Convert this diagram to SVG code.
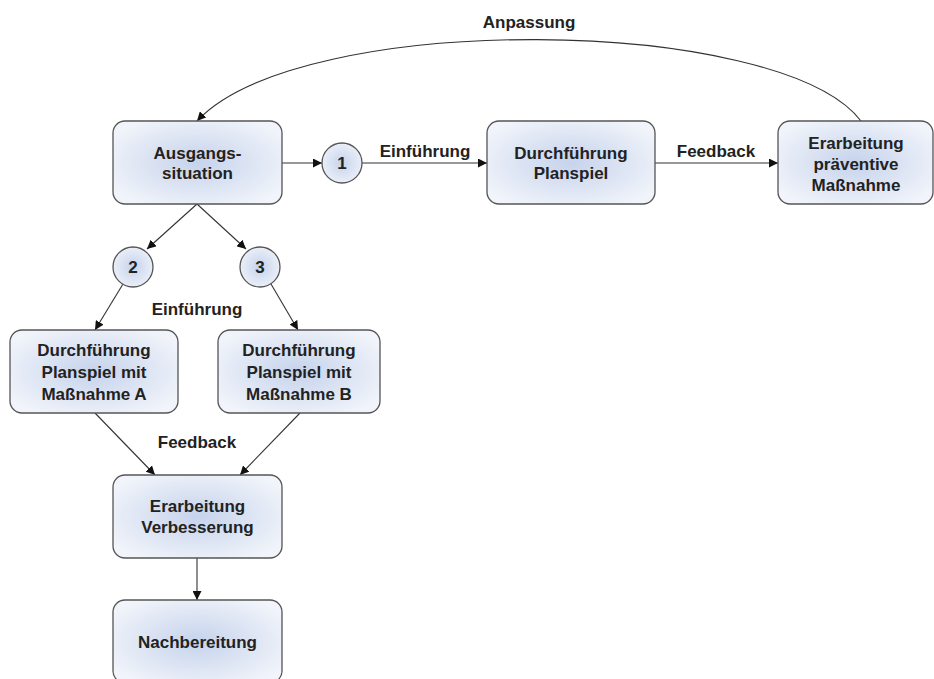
<svg xmlns="http://www.w3.org/2000/svg" width="934" height="679" viewBox="0 0 934 679">
<style>
.box{fill:url(#g);stroke:#555;stroke-width:1.3}
.t{font-family:"Liberation Sans",Arial,sans-serif;font-weight:bold;font-size:17px;fill:#222;text-anchor:middle}
.c{fill:none;stroke:#333;stroke-width:1.1;marker-end:url(#a)}
</style>
<defs>
<radialGradient id="g" cx="50%" cy="50%" r="60%">
<stop offset="0" stop-color="#c6d3ec"/>
<stop offset="1" stop-color="#f1f4fa"/>
</radialGradient>
<marker id="a" viewBox="0 0 10 10" refX="10" refY="5" markerWidth="9" markerHeight="9" orient="auto" markerUnits="userSpaceOnUse">
<path d="M0,0 L10,5 L0,10 z" fill="#111"/>
</marker>
</defs>
<rect width="934" height="679" fill="#fff"/>
<g id="connectors">
<path class="c" d="M861,121 C780,15 300,10 197,121"/>
<path class="c" d="M282,163 L322,163"/>
<path class="c" d="M362,163 L487,163"/>
<path class="c" d="M655,163 L778,163"/>
<path class="c" d="M197,204 L147,249"/>
<path class="c" d="M197,204 L246,249"/>
<path class="c" d="M123,284 L95,330"/>
<path class="c" d="M271,284 L298,330"/>
<path class="c" d="M95,413 L155,475"/>
<path class="c" d="M300,413 L240,475"/>
<path class="c" d="M197,558 L197,600"/>
<text class="t" x="529" y="28">Anpassung</text>
<text class="t" x="425" y="157">Einführung</text>
<text class="t" x="716" y="157">Feedback</text>
<text class="t" x="197" y="315">Einführung</text>
<text class="t" x="197" y="448">Feedback</text>
</g>
<g id="n-ausgang"><rect class="box" x="113" y="121" width="169" height="83" rx="12"/><text class="t" x="197.5" y="159">Ausgangs-</text><text class="t" x="197.5" y="179">situation</text></g>
<g id="n-c1"><circle class="box" cx="342" cy="163" r="20"/><text class="t" x="342" y="169">1</text></g>
<g id="n-durch"><rect class="box" x="487" y="121" width="168" height="83" rx="12"/><text class="t" x="571" y="159">Durchführung</text><text class="t" x="571" y="179">Planspiel</text></g>
<g id="n-praev"><rect class="box" x="778" y="121" width="155" height="83" rx="12"/><text class="t" x="856" y="149">Erarbeitung</text><text class="t" x="856" y="170">präventive</text><text class="t" x="856" y="191">Maßnahme</text></g>
<g id="n-c2"><circle class="box" cx="133" cy="267" r="20"/><text class="t" x="133" y="273">2</text></g>
<g id="n-c3"><circle class="box" cx="260" cy="267" r="20"/><text class="t" x="260" y="273">3</text></g>
<g id="n-a"><rect class="box" x="10" y="330" width="168" height="83" rx="12"/><text class="t" x="94" y="356">Durchführung</text><text class="t" x="94" y="378">Planspiel mit</text><text class="t" x="94" y="400">Maßnahme A</text></g>
<g id="n-b"><rect class="box" x="218" y="330" width="162" height="83" rx="12"/><text class="t" x="299" y="356">Durchführung</text><text class="t" x="299" y="378">Planspiel mit</text><text class="t" x="299" y="400">Maßnahme B</text></g>
<g id="n-verb"><rect class="box" x="113" y="475" width="169" height="83" rx="12"/><text class="t" x="197.5" y="512">Erarbeitung</text><text class="t" x="197.5" y="533">Verbesserung</text></g>
<g id="n-nach"><rect class="box" x="113" y="600" width="169" height="83" rx="12"/><text class="t" x="197.5" y="648">Nachbereitung</text></g>
</svg>
